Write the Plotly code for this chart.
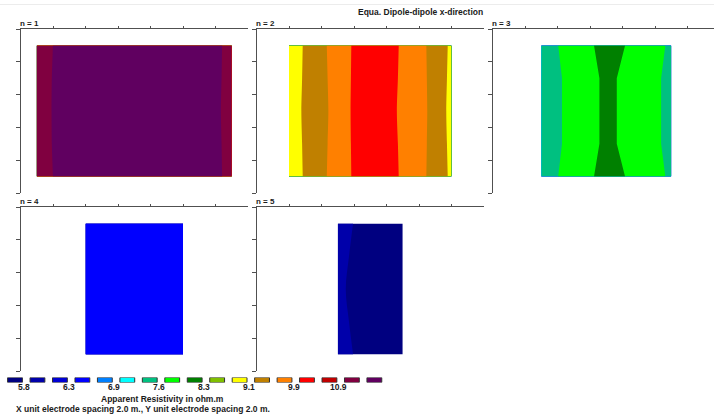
import numpy as np
import plotly.graph_objects as go

# ---------------- data ----------------
title_text = "Equa. Dipole-dipole x-direction"
panel_names = ["n = 1", "n = 2", "n = 3", "n = 4", "n = 5"]

level_labels = ["5.8", "6.3", "6.9", "7.6", "8.3", "9.1", "9.9", "10.9"]
level_lo, level_hi = 5.8, 10.9  # first and last labelled level (ohm.m)
level_colors = ["#000080", "#0000AA", "#0000D4", "#0000FF", "#0080FF", "#00FFFF",
                "#00C080", "#00FF00", "#008000", "#80C000", "#FFFF00", "#C08000",
                "#FF8000", "#FF0000", "#C00000", "#800040", "#600060"]

y_rows = [0.5, 1.5, 2.5, 3.5, 4.5]

x_n1 = [0.5, 1.5, 2.5, 3.5, 4.5, 5.5, 6.5]
rho_n1 = [
    [11.21, 11.60, 11.75, 11.82, 11.75, 11.60, 11.32],
    [11.21, 11.63, 11.78, 11.86, 11.78, 11.63, 11.30],
    [11.20, 11.65, 11.80, 11.88, 11.80, 11.65, 11.28],
    [11.21, 11.63, 11.78, 11.86, 11.78, 11.63, 11.30],
    [11.21, 11.60, 11.75, 11.82, 11.75, 11.60, 11.32],
]

x_n2 = [1, 2, 3, 4, 5, 6]
rho_n2 = [
    [8.87, 9.43, 10.01, 10.14, 9.67, 9.03],
    [8.90, 9.41, 10.02, 10.11, 9.69, 9.01],
    [8.93, 9.39, 10.03, 10.08, 9.71, 8.99],
    [8.90, 9.41, 10.02, 10.11, 9.69, 9.01],
    [8.87, 9.43, 10.01, 10.14, 9.67, 9.03],
]

x_n3 = [1.5, 2.5, 3.5, 4.5, 5.5]
rho_n3 = [
    [7.40, 7.79, 8.05, 7.88, 7.54],
    [7.31, 7.77, 8.00, 7.85, 7.49],
    [7.31, 7.77, 8.00, 7.85, 7.49],
    [7.31, 7.77, 8.00, 7.85, 7.49],
    [7.40, 7.79, 8.05, 7.88, 7.54],
]

x_n4 = [2, 3, 4, 5]
rho_n4 = [
    [6.46, 6.50, 6.52, 6.48],
    [6.47, 6.51, 6.53, 6.49],
    [6.47, 6.52, 6.53, 6.49],
    [6.47, 6.51, 6.53, 6.49],
    [6.46, 6.50, 6.52, 6.48],
]

x_n5 = [2.5, 3.5, 4.5]
rho_n5 = [
    [5.90, 5.69, 5.62],
    [5.87, 5.67, 5.60],
    [5.85, 5.65, 5.58],
    [5.87, 5.67, 5.60],
    [5.90, 5.69, 5.62],
]

legend_title = "Apparent Resistivity in ohm.m"
footer_text = "X unit electrode spacing 2.0 m., Y unit electrode spacing 2.0 m."

# ---------------- layout helpers ----------------
W, H = 714, 415
UX, UY = 32.5, 32.8
AXC = "#505050"
TXC = "#1a1a1a"
FONT = "Liberation Sans, Arial, sans-serif"

n_levels = len(level_colors) - 1  # 16 boundaries
lstep = np.log(level_hi / level_lo) / (2 * (len(level_labels) - 1))
lstart = np.log(level_lo)
lend = lstart + (n_levels - 1) * lstep
cscale = [[j / n_levels, c] for j, c in enumerate(level_colors)]

panels = [
    (x_n1, rho_n1, 20.5, 29, 0.6),
    (x_n2, rho_n2, 256.5, 29, 0.8),
    (x_n3, rho_n3, 492.5, 29, 0),
    (x_n4, rho_n4, 20.5, 207, 0),
    (x_n5, rho_n5, 256.5, 207, 1.0),
]

fig = go.Figure()
layout = dict(width=W, height=H, margin=dict(l=0, r=0, t=0, b=0),
              paper_bgcolor="white", plot_bgcolor="rgba(0,0,0,0)",
              showlegend=False, font=dict(family=FONT, size=8, color=TXC))
annotations = []

for i, (xs, rho, x0, y0, smooth) in enumerate(panels):
    k = i + 1
    xend = min(x0 + 7 * UX, W)
    xa = "xaxis" if k == 1 else f"xaxis{k}"
    ya = "yaxis" if k == 1 else f"yaxis{k}"
    xr = "x" if k == 1 else f"x{k}"
    yr = "y" if k == 1 else f"y{k}"
    layout[xa] = dict(domain=[x0 / W, xend / W], range=[0, (xend - x0) / UX],
                      anchor=yr, side="top", showline=True, linecolor=AXC, linewidth=1,
                      ticks="outside", ticklen=2, tickcolor=AXC, tickwidth=1,
                      tickvals=[1, 2, 3, 4, 5, 6], showticklabels=False,
                      showgrid=False, zeroline=False, fixedrange=True)
    layout[ya] = dict(domain=[1 - (y0 + 5 * UY) / H, 1 - y0 / H], range=[5, 0],
                      anchor=xr, showline=True, linecolor=AXC, linewidth=1,
                      ticks="outside", ticklen=4, tickcolor=AXC, tickwidth=1,
                      tickvals=[0, 1, 2, 3, 4, 5], showticklabels=False,
                      showgrid=False, zeroline=False, fixedrange=True)
    fig.add_trace(go.Contour(
        x=xs, y=y_rows, z=np.log(np.array(rho)), xaxis=xr, yaxis=yr,
        autocontour=False,
        contours=dict(start=lstart, end=lend, size=lstep, coloring="fill",
                      showlines=False),
        line=dict(width=0, smoothing=smooth),
        colorscale=cscale, showscale=False, hoverinfo="skip"))
    annotations.append(dict(text="<b>" + panel_names[i] + "</b>", x=(x0 - 3) / W,
                            y=1 - (y0 - 6) / H,
                            xref="paper", yref="paper", xanchor="left", yanchor="middle",
                            showarrow=False, font=dict(size=8, color=TXC)))

# legend bar
sw = 22.46
lx0 = 15 - sw / 2
layout["xaxis6"] = dict(domain=[lx0 / W, (lx0 + 17 * sw) / W], range=[-0.5, 16.5],
                        anchor="y6", visible=False, fixedrange=True)
layout["yaxis6"] = dict(domain=[1 - 382.5 / H, 1 - 377.5 / H], range=[0, 1],
                        anchor="x6", visible=False, fixedrange=True)
fig.add_trace(go.Bar(x=list(range(len(level_colors))), y=[1] * len(level_colors),
                     xaxis="x6", yaxis="y6", width=0.66,
                     marker=dict(color=level_colors, line=dict(color="#303030", width=1)),
                     hoverinfo="skip"))
for i, lab in enumerate(level_labels):
    annotations.append(dict(text="<b>" + lab + "</b>", x=2 * i + 0.4, y=1 - 387 / H,
                            xref="x6", yref="paper",
                            xanchor="center", yanchor="middle", showarrow=False,
                            font=dict(size=8.5, color=TXC)))

annotations.append(dict(text="<b>" + legend_title + "</b>", x=162 / W, y=1 - 398.5 / H,
                        xref="paper", yref="paper",
                        xanchor="center", yanchor="middle", showarrow=False,
                        font=dict(size=8.5, color=TXC)))
annotations.append(dict(text="<b>" + footer_text + "</b>", x=14 / W, y=1 - 409 / H,
                        xref="paper", yref="paper",
                        xanchor="left", yanchor="middle", showarrow=False,
                        font=dict(size=8.5, color=TXC)))
annotations.append(dict(text="<b>" + title_text + "</b>", x=420.5 / W, y=1 - 12 / H,
                        xref="paper", yref="paper", xanchor="center", yanchor="middle",
                        showarrow=False, font=dict(size=8.5, color=TXC)))

layout["annotations"] = annotations
layout["shapes"] = [dict(type="line", xref="paper", yref="paper", x0=0, x1=1,
                         y0=1 - 4.5 / H, y1=1 - 4.5 / H, line=dict(color="#ececec", width=1))]
fig.update_layout(**layout)
fig.write_html("out.html", config={"displayModeBar": False})
